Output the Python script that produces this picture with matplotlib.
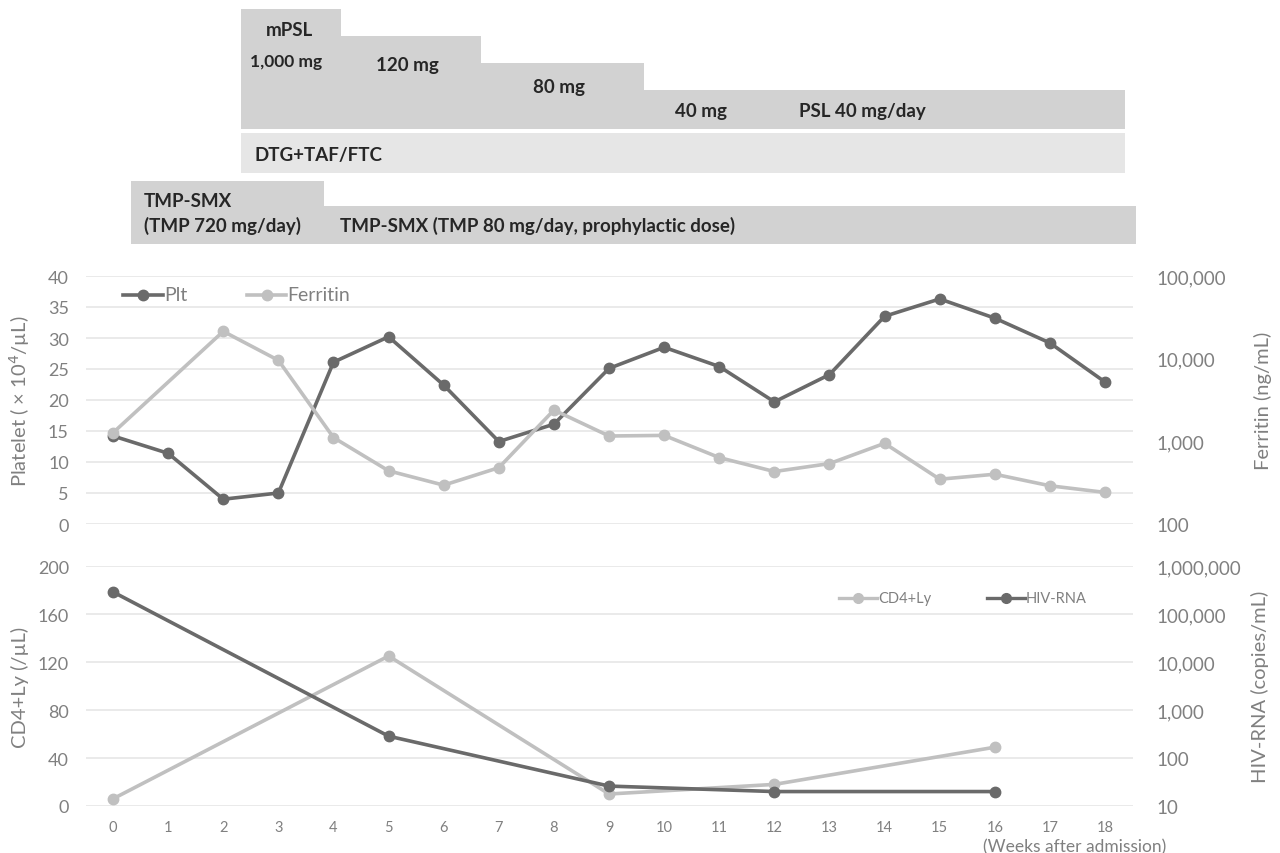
import matplotlib
matplotlib.use("Agg")
import matplotlib.pyplot as plt
from matplotlib.patches import Rectangle
from matplotlib.lines import Line2D
from matplotlib.ticker import NullLocator

plt.rcParams['font.family'] = ['Lato', 'DejaVu Sans']

# ---- data -------------------------------------------------------------
weeks = list(range(19))
plt_weeks = list(range(19))
plt_values = [14.2, 11.4, 4.0, 5.0, 26.1, 30.2, 22.4, 13.3, 16.1, 25.1,
              28.5, 25.4, 19.7, 24.1, 33.5, 36.3, 33.2, 29.2, 22.9]
ferritin_weeks = [0, 2, 3, 4, 5, 6, 7, 8, 9, 10, 11, 12, 13, 14, 15, 16, 17, 18]
ferritin_values = [1270, 21400, 9550, 1110, 440, 295, 480, 2390, 1160, 1180,
                   636, 431, 538, 946, 348, 400, 290, 241]
cd4_weeks = [0, 5, 9, 12, 16]
cd4_values = [6, 125, 10, 18, 49]
hiv_weeks = [0, 5, 9, 12, 16]
hiv_values = [288000, 285, 26, 20, 20]

# treatment timeline (weeks): steroid steps
psl_labels = ["1,000 mg", "120 mg", "80 mg", "40 mg"]
psl_start = [2.32, 4.14, 6.68, 9.64]
psl_end = [4.14, 6.68, 9.64, 18.37]
art_label = "DTG+TAF/FTC"
art_start, art_end = 2.32, 18.37
tmp_labels = ["TMP-SMX\n(TMP 720 mg/day)", "TMP-SMX (TMP 80 mg/day, prophylactic dose)"]
tmp_start = [0.33, 3.83]
tmp_end = [3.83, 18.57]

left_ticks_top = [0, 5, 10, 15, 20, 25, 30, 35, 40]
ferritin_ticks = [100, 1000, 10000, 100000]
left_ticks_bot = [0, 40, 80, 120, 160, 200]
hiv_ticks = [10, 100, 1000, 10000, 100000, 1000000]

# ---- style ------------------------------------------------------------
DARK = '#6a6a6a'
LIGHT = '#c0c0c0'
GRID = '#e6e6e6'
TXT = '#808080'
BAR = '#d2d2d2'
BAR2 = '#e6e6e6'
LW, MS = 2.6, 7.5

W, H = 1280, 854
fig = plt.figure(figsize=(12.8, 8.54), dpi=100)

def fbox(x0, x1, ytop, ybot):
    return [x0 / W, 1 - ybot / H, (x1 - x0) / W, (ybot - ytop) / H]

def fx(px):
    return px / W

def fy(py):
    return 1 - py / H

XL, XR = 85.5, 1132.6
XLIM = (-0.5, 18.5)

def comma(v):
    return f"{v:,}"

# ---- treatment timeline ----------------------------------------------
tl = fig.add_axes(fbox(XL, XR, 0, 250))
tl.set_xlim(XLIM)
tl.set_ylim(250, 0)
tl.axis('off')

psl_tops = [10, 37, 64, 91]
for s, e, top in zip(psl_start, psl_end, psl_tops):
    tl.add_patch(Rectangle((s, top), e - s, 130 - top, facecolor=BAR,
                           edgecolor='none', clip_on=False))
tl.add_patch(Rectangle((art_start, 134), art_end - art_start, 40,
                       facecolor=BAR2, edgecolor='none', clip_on=False))
tl.add_patch(Rectangle((tmp_start[0], 182), tmp_end[0] - tmp_start[0], 63,
                       facecolor=BAR, edgecolor='none', clip_on=False))
tl.add_patch(Rectangle((tmp_start[1], 207), tmp_end[1] - tmp_start[1], 38,
                       facecolor=BAR, edgecolor='none', clip_on=False))

bkw = dict(fontsize=13.5, fontweight='bold', color='#262626', va='center', ha='left')
tl.text(psl_start[0] + 0.46, 31, "mPSL", **bkw)
tl.text(psl_start[0] + 0.17, 62, psl_labels[0], fontsize=12.5, fontweight='bold',
        color='#262626', va='center', ha='left')
tl.text(psl_start[1] + 0.63, 66, psl_labels[1], **bkw)
tl.text(psl_start[2] + 0.94, 87, psl_labels[2], **bkw)
tl.text(psl_start[3] + 0.56, 112, psl_labels[3], **bkw)
tl.text(psl_start[3] + 2.81, 112, "PSL 40 mg/day", **bkw)
tl.text(art_start + 0.24, 156, art_label, **bkw)
tl.text(tmp_start[0] + 0.23, 214, tmp_labels[0], fontsize=13.5, fontweight='bold',
        color='#262626', va='center', ha='left', linespacing=1.45)
tl.text(tmp_start[1] + 0.29, 226, tmp_labels[1], **bkw)

# ---- platelet / ferritin ---------------------------------------------
ax1 = fig.add_axes(fbox(XL, XR, 277, 525))
ax1r = ax1.twinx()
ax1.set_xlim(XLIM)
ax1.set_ylim(0, 40)
ax1.set_yticks(left_ticks_top)
ax1.set_yticklabels([str(v) for v in left_ticks_top])
ax1.set_xticks(weeks)
ax1.tick_params(axis='x', length=0, labelbottom=False)
ax1.tick_params(axis='y', length=0, labelsize=13, labelcolor=TXT, pad=12)
ax1.grid(axis='y', color=GRID, lw=1.2)
ax1.set_axisbelow(True)
for s in ax1.spines.values():
    s.set_visible(False)
ax1.set_ylabel("Platelet ( × 10$^4$/µL)", fontsize=14.5, color=TXT)
ax1.yaxis.label.set_va('center')
ax1.yaxis.set_label_coords((20 - XL) / (XR - XL), 0.5)
ax1.plot(plt_weeks, plt_values, color=DARK, lw=LW, marker='o', ms=MS,
         clip_on=False, zorder=3)

ax1r.set_yscale('log')
ax1r.set_ylim(100, 100000)
ax1r.set_yticks(ferritin_ticks)
ax1r.set_yticklabels([comma(v) for v in ferritin_ticks])
ax1r.yaxis.set_minor_locator(NullLocator())
ax1r.tick_params(axis='y', which='both', length=0, labelsize=13.5, labelcolor=TXT, pad=17)
for s in ax1r.spines.values():
    s.set_visible(False)
ax1r.set_ylabel("Ferritin (ng/mL)", fontsize=14.5, color=TXT)
ax1r.yaxis.label.set_va('center')
ax1r.yaxis.set_label_coords((1263 - XL) / (XR - XL), 0.5)
ax1r.plot(ferritin_weeks, ferritin_values, color=LIGHT, lw=LW, marker='o', ms=MS,
          clip_on=False, zorder=3)

# ---- CD4 / HIV-RNA ----------------------------------------------------
ax2 = fig.add_axes(fbox(XL, XR, 567, 807))
ax2r = ax2.twinx()
ax2.set_xlim(XLIM)
ax2.set_ylim(0, 200)
ax2.set_yticks(left_ticks_bot)
ax2.set_yticklabels([str(v) for v in left_ticks_bot])
ax2.set_xticks(weeks)
ax2.set_xticklabels([str(w) for w in weeks])
ax2.tick_params(axis='x', length=0, labelsize=10.5, labelcolor=TXT, pad=10)
ax2.tick_params(axis='y', length=0, labelsize=13, labelcolor=TXT, pad=12)
ax2.grid(axis='y', color=GRID, lw=1.2)
ax2.set_axisbelow(True)
for s in ax2.spines.values():
    s.set_visible(False)
ax2.set_ylabel("CD4+Ly (/µL)", fontsize=14.5, color=TXT)
ax2.yaxis.label.set_va('center')
ax2.yaxis.set_label_coords((20 - XL) / (XR - XL), 0.5)
ax2.plot(cd4_weeks, cd4_values, color=LIGHT, lw=LW, marker='o', ms=MS,
         clip_on=False, zorder=3)

ax2r.set_yscale('log')
ax2r.set_ylim(10, 1000000)
ax2r.set_yticks(hiv_ticks)
ax2r.set_yticklabels([comma(v) for v in hiv_ticks])
ax2r.yaxis.set_minor_locator(NullLocator())
ax2r.tick_params(axis='y', which='both', length=0, labelsize=13.5, labelcolor=TXT, pad=17)
for s in ax2r.spines.values():
    s.set_visible(False)
ax2r.set_ylabel("HIV-RNA (copies/mL)", fontsize=14.5, color=TXT)
ax2r.yaxis.label.set_va('center')
ax2r.yaxis.set_label_coords((1260 - XL) / (XR - XL), 0.5)
ax2r.plot(hiv_weeks, hiv_values, color=DARK, lw=LW, marker='o', ms=MS,
          clip_on=False, zorder=3)

# ---- legends (drawn as keys in figure space) --------------------------
def legend_key(x0, x1, y, color, label, size, lw=LW, ms=MS):
    fig.add_artist(Line2D([fx(x0), fx(x1)], [fy(y), fy(y)], color=color, lw=lw,
                          transform=fig.transFigure))
    fig.add_artist(Line2D([fx((x0 + x1) / 2)], [fy(y)], color=color, marker='o',
                          ms=ms, transform=fig.transFigure))
    fig.text(fx(x1 + 1), fy(y), label, fontsize=size, color=TXT,
             ha='left', va='center')

legend_key(123, 163, 296, DARK, "Plt", 14)
legend_key(247, 286, 296, LIGHT, "Ferritin", 14)
legend_key(839, 877, 599, LIGHT, "CD4+Ly", 10.5, lw=2.4, ms=7)
legend_key(987, 1025, 599, DARK, "HIV-RNA", 10.5, lw=2.4, ms=7)

fig.text(fx(1166), fy(847), "(Weeks after admission)", ha='right', va='center',
         fontsize=12.5, color=TXT)

fig.savefig("out.png", dpi=100)
